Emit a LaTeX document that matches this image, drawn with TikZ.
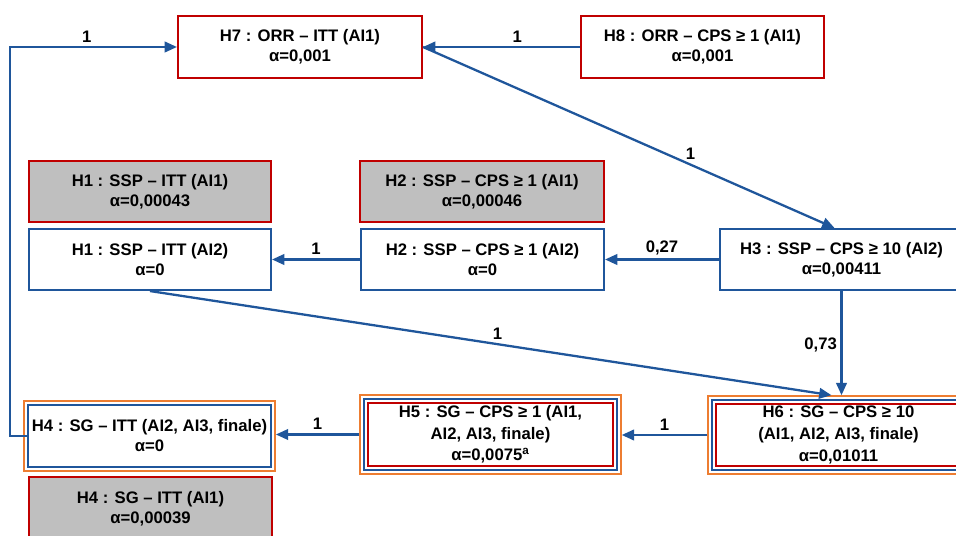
\documentclass[tikz,border=0pt]{standalone}
\usepackage{fontspec}
\setmainfont{Liberation Sans}
\usetikzlibrary{arrows.meta, fit, positioning}
\definecolor{hred}{RGB}{192, 0, 0}
\definecolor{hblue}{RGB}{31, 86, 155}
\definecolor{horange}{RGB}{237, 125, 49}
\definecolor{hgray}{RGB}{191, 191, 191}

\begin{document}
\begin{tikzpicture}[x=0.02cm, y=-0.02cm,
        every node/.style={font=\fontsize{9.5}{11.4}\selectfont\bfseries, align=center},
        hyp/.style={line width=1.2pt, minimum width=4.86cm, minimum height=1.24cm, inner sep=1pt},
        redbox/.style={hyp, draw=hred},
        bluebox/.style={hyp, draw=hblue},
        greybox/.style={hyp, draw=hred, fill=hgray},
        sgbox/.style={redbox, minimum width=4.9cm, font=\fontsize{9.5}{12.3}\selectfont\bfseries},
        frame/.style={line width=1.2pt, inner sep=1.6pt},
        link/.style={hblue, line width=1.3pt, -{Triangle[length=7pt, width=6pt]}},
        wt/.style={text=black, inner sep=1pt}]
            \useasboundingbox (0,0) rectangle (956,536);

            % top row
            \node[redbox, minimum width=4.88cm] (h7) at (300,47) {H7 : ORR – ITT (AI1)\\α=0,001};
            \node[redbox] (h8) at (702.5,47) {H8 : ORR – CPS ≥ 1 (AI1)\\α=0,001};

            % SSP
            \node[greybox, minimum width=4.84cm, minimum height=1.22cm] (h1a) at (150,191.5) {H1 : SSP – ITT (AI1)\\α=0,00043};
            \node[greybox, minimum width=4.88cm, minimum height=1.22cm] (h2a) at (482,191.5) {H2 : SSP – CPS ≥ 1 (AI1)\\α=0,00046};
            \node[bluebox, minimum width=4.84cm, minimum height=1.22cm] (h1) at (150,259.5) {H1 : SSP – ITT (AI2)\\α=0};
            \node[bluebox, minimum height=1.22cm] (h2) at (482.5,259.5) {H2 : SSP – CPS ≥ 1 (AI2)\\α=0};
            \node[bluebox, minimum height=1.22cm] (h3) at (841.5,259.5) {H3 : SSP – CPS ≥ 10 (AI2)\\α=0,00411};

            % SG
            \node[bluebox] (h4) at (149.5,436) {H4 : SG – ITT (AI2, AI3, finale)\\α=0};
            \node[frame, draw=horange, fit=(h4)] (h4o) {};
            \node[greybox, minimum height=1.26cm] (h4a) at (150.5,508.5) {H4 : SG – ITT (AI1)\\α=0,00039};

            \node[sgbox, minimum height=1.26cm] (h5) at (490.5,434.5) {H5 : SG – CPS ≥ 1 (AI1,\\AI2, AI3, finale)\\α=0,0075\textsuperscript{a}};
            \node[frame, draw=hblue, fit=(h5)] (h5b) {};
            \node[frame, draw=horange, fit=(h5b)] (h5o) {};

            \node[sgbox] (h6) at (838.5,435) {H6 : SG – CPS ≥ 10\\(AI1, AI2, AI3, finale)\\α=0,01011};
            \node[frame, draw=hblue, fit=(h6)] (h6b) {};
            \node[frame, draw=horange, fit=(h6b)] (h6o) {};

            % connectors
            \coordinate (loop) at (10,436);
            \draw[link] (h8) -- node[wt, above=1pt, pos=0.4] {1} (h7);
            \draw[link] (h4.west) -- (loop) |- node[wt, above=1pt, pos=0.73] {1} (h7.west);
            \draw[link] (h7.east) -- node[wt, above=1pt, pos=0.65] {1} ([xshift=-4]h3.north);
            \draw[link] (h3) -- node[wt, above=1pt] {0,27} (h2);
            \draw[link] (h2) -- node[wt, above=1pt] {1} (h1);
            \draw[link] (h3.south) -- node[wt, left=1pt, pos=0.52] {0,73} (h3.south |- h6o.north);
            \draw[link] (h1.south) -- node[wt, above=1pt, pos=0.51] {1} ([xshift=-4]h6o.north);
            \draw[link] (h6o.west) -- node[wt, above=1pt] {1} (h6o.west -| h5o.east);
            \draw[link] (h5o.west) -- node[wt, above=1pt] {1} (h5o.west -| h4o.east);
        \end{tikzpicture}
\end{document}
